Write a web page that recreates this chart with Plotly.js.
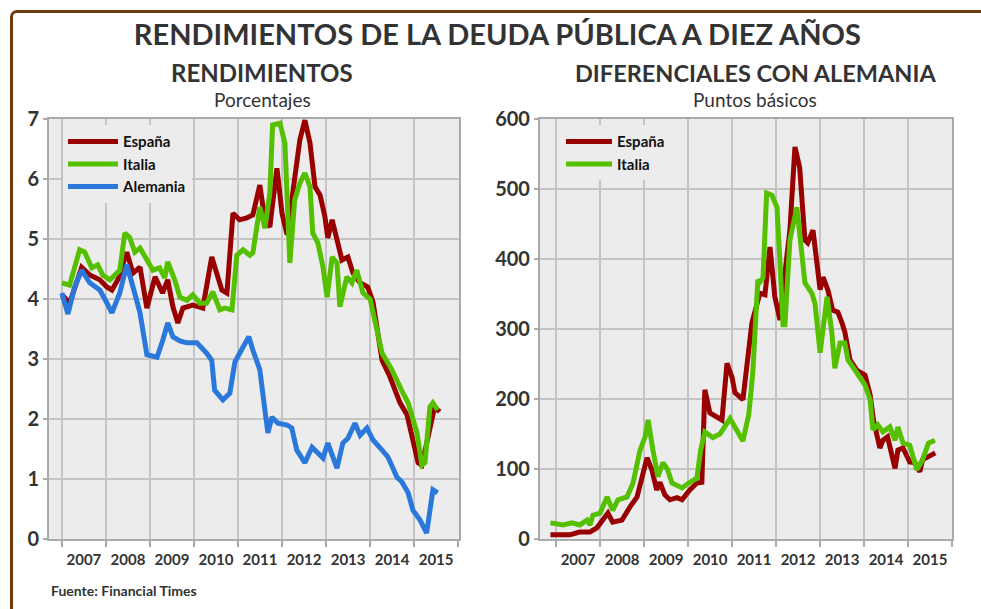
<!DOCTYPE html>
<html>
<head>
<meta charset="utf-8">
<script src="https://cdn.plot.ly/plotly-3.0.1.min.js"></script>
<style>
  html, body { margin: 0; padding: 0; background: #ffffff; width: 981px; height: 609px; overflow: hidden; }
  #frame { position: absolute; left: 10px; top: 10px; width: 1000px; height: 640px;
           border-left: 3px solid #6b3c0c; border-top: 3px solid #6b3c0c; border-top-left-radius: 7px; box-sizing: border-box; }
  #chart { position: absolute; left: 0; top: 0; width: 981px; height: 609px; }
</style>
</head>
<body>
<div id="frame"></div>
<div id="chart"></div>
<script>
// ---------- Data ----------
const mainTitle = "RENDIMIENTOS DE LA DEUDA PÚBLICA A DIEZ AÑOS";
const leftTitle = "RENDIMIENTOS";
const leftSubtitle = "Porcentajes";
const rightTitle = "DIFERENCIALES CON ALEMANIA";
const rightSubtitle = "Puntos básicos";
const sourceText = "Fuente: Financial Times";
const seriesNames = ["España", "Italia", "Alemania"];

// Left chart: 10-year yields, %
const yieldEspDates = ["2007-01-01","2007-03-06","2007-06-14","2007-08-20","2007-11-11","2008-01-09","2008-02-20","2008-04-09","2008-06-22","2008-08-13","2008-10-10","2008-12-06","2009-02-12","2009-04-15","2009-05-28","2009-07-10","2009-08-20","2009-10-01","2009-12-22","2010-03-15","2010-05-28","2010-07-09","2010-08-20","2010-10-01","2010-11-20","2011-01-15","2011-03-14","2011-05-04","2011-07-01","2011-08-12","2011-09-22","2011-11-20","2012-01-01","2012-02-12","2012-04-01","2012-05-28","2012-07-09","2012-08-20","2012-10-01","2012-11-12","2012-12-22","2013-01-15","2013-02-20","2013-04-01","2013-05-12","2013-07-01","2013-08-12","2013-10-10","2013-12-12","2014-01-25","2014-04-10","2014-06-15","2014-09-06","2014-11-03","2014-12-22","2015-02-03","2015-03-06","2015-05-12","2015-06-20","2015-08-01"];
const yieldEsp = [4.07,3.93,4.53,4.40,4.32,4.20,4.15,4.32,4.78,4.43,4.53,3.85,4.37,4.10,4.32,3.87,3.60,3.85,3.90,3.85,4.70,4.43,4.15,4.10,5.43,5.32,5.35,5.40,5.90,5.32,5.20,6.18,5.43,5.07,5.77,6.65,6.98,6.60,5.87,5.73,5.37,5.02,5.32,4.98,4.65,4.70,4.43,4.27,4.20,3.95,2.98,2.70,2.27,2.07,1.65,1.27,1.23,1.87,2.20,2.12];

const yieldItaDates = ["2007-01-01","2007-03-06","2007-05-28","2007-07-09","2007-09-06","2007-10-25","2007-12-06","2008-02-03","2008-04-25","2008-06-06","2008-07-15","2008-08-28","2008-10-10","2008-12-06","2009-01-25","2009-03-22","2009-05-03","2009-05-28","2009-07-25","2009-09-06","2009-11-03","2009-12-22","2010-02-18","2010-04-15","2010-06-06","2010-08-03","2010-09-15","2010-11-12","2010-12-22","2011-02-12","2011-04-09","2011-05-04","2011-07-01","2011-08-12","2011-09-22","2011-10-15","2011-12-15","2012-01-25","2012-02-20","2012-03-06","2012-04-15","2012-05-28","2012-07-09","2012-08-20","2012-09-12","2012-10-25","2012-12-06","2013-01-09","2013-02-20","2013-04-01","2013-04-25","2013-06-22","2013-08-03","2013-09-12","2013-11-03","2014-01-01","2014-04-10","2014-07-01","2014-10-01","2014-11-12","2015-01-25","2015-03-06","2015-04-01","2015-05-12","2015-06-06","2015-07-15"];
const yieldIta = [4.27,4.23,4.82,4.78,4.52,4.57,4.40,4.32,4.48,5.10,5.03,4.78,4.85,4.65,4.48,4.52,4.35,4.62,4.32,4.03,3.98,4.07,3.93,3.93,4.12,3.82,3.85,3.82,4.73,4.82,4.73,4.77,5.53,5.18,5.77,6.90,6.93,6.60,5.48,4.60,5.65,5.93,6.10,5.87,5.10,4.93,4.53,4.03,4.70,4.60,3.87,4.37,4.27,4.48,4.10,4.00,3.10,2.82,2.43,2.27,1.77,1.23,1.27,2.20,2.27,2.15];

const yieldAleDates = ["2007-01-01","2007-02-20","2007-04-17","2007-06-14","2007-08-20","2007-11-11","2007-12-23","2008-02-20","2008-04-25","2008-06-22","2008-08-13","2008-10-10","2008-12-06","2009-01-15","2009-02-28","2009-04-15","2009-05-28","2009-07-10","2009-09-06","2009-11-03","2010-01-25","2010-04-15","2010-05-28","2010-06-21","2010-08-28","2010-10-25","2010-12-06","2011-02-12","2011-04-01","2011-05-04","2011-07-01","2011-08-12","2011-09-06","2011-10-09","2011-11-28","2012-02-12","2012-03-22","2012-05-03","2012-07-09","2012-09-06","2012-10-15","2012-12-06","2013-01-15","2013-04-01","2013-05-20","2013-07-01","2013-08-28","2013-10-10","2013-12-06","2014-01-25","2014-04-10","2014-05-28","2014-08-12","2014-09-22","2014-11-12","2014-12-22","2015-02-18","2015-04-15","2015-06-06","2015-07-15"];
const yieldAle = [4.10,3.75,4.20,4.48,4.27,4.15,4.00,3.77,4.10,4.57,4.20,3.77,3.07,3.05,3.03,3.30,3.60,3.37,3.30,3.27,3.27,3.10,2.98,2.48,2.32,2.43,2.95,3.20,3.37,3.15,2.82,2.15,1.77,2.03,1.93,1.90,1.85,1.48,1.27,1.53,1.45,1.35,1.60,1.18,1.60,1.68,1.93,1.73,1.85,1.65,1.48,1.37,1.03,0.95,0.77,0.48,0.32,0.10,0.82,0.77];

// Right chart: spreads vs Germany, basis points
const spreadEspDates = ["2006-11-15","2007-04-25","2007-07-15","2007-10-09","2007-12-06","2008-01-25","2008-03-06","2008-04-15","2008-07-01","2008-09-06","2008-11-03","2009-01-25","2009-03-06","2009-04-15","2009-05-12","2009-06-22","2009-08-03","2009-10-01","2009-11-12","2010-01-15","2010-03-15","2010-04-25","2010-05-20","2010-07-01","2010-08-28","2010-10-09","2010-11-20","2011-01-01","2011-01-25","2011-04-01","2011-06-15","2011-08-20","2011-10-01","2011-11-12","2011-12-22","2012-02-03","2012-03-15","2012-04-25","2012-06-06","2012-07-15","2012-08-28","2012-09-20","2012-11-03","2012-12-06","2013-01-01","2013-01-25","2013-03-06","2013-04-15","2013-05-28","2013-07-01","2013-07-25","2013-09-06","2013-11-03","2014-01-09","2014-02-20","2014-03-20","2014-04-15","2014-05-12","2014-06-06","2014-07-15","2014-09-15","2014-10-09","2014-11-20","2015-01-15","2015-02-28","2015-04-09","2015-05-01","2015-06-20","2015-08-15"];
const spreadEsp = [6,6,10,10,16,27,37,24,27,46,60,116,99,70,81,63,56,59,56,70,80,81,213,180,174,170,251,231,209,199,309,351,349,417,346,313,380,441,560,531,427,423,441,394,356,374,356,327,324,309,296,256,241,234,206,170,146,130,141,146,101,127,130,110,109,96,113,117,123];

const spreadItaDates = ["2006-11-15","2007-03-01","2007-05-12","2007-07-15","2007-09-15","2007-10-09","2007-11-03","2008-01-01","2008-02-28","2008-04-15","2008-05-28","2008-08-12","2008-10-01","2008-11-28","2009-01-09","2009-02-03","2009-03-15","2009-04-25","2009-06-06","2009-07-15","2009-08-20","2009-11-12","2010-01-15","2010-03-15","2010-04-15","2010-05-20","2010-07-25","2010-09-22","2010-12-15","2011-02-12","2011-04-01","2011-05-20","2011-06-22","2011-08-03","2011-08-20","2011-09-15","2011-10-15","2011-11-28","2012-01-09","2012-02-03","2012-02-28","2012-03-15","2012-04-25","2012-06-22","2012-07-15","2012-08-28","2012-10-25","2012-11-20","2013-01-01","2013-02-28","2013-04-09","2013-05-03","2013-06-15","2013-07-25","2013-08-20","2013-10-01","2013-11-28","2014-01-09","2014-02-20","2014-03-15","2014-04-25","2014-06-06","2014-08-03","2014-09-15","2014-10-09","2014-11-20","2015-01-15","2015-03-15","2015-05-01","2015-06-01","2015-06-20","2015-08-12"];
const spreadIta = [23,20,23,20,27,20,34,37,60,41,56,60,80,127,146,170,127,89,109,99,80,73,81,87,127,153,145,150,172,155,140,178,237,370,367,373,494,491,474,394,306,306,427,474,441,366,351,336,266,346,294,244,280,280,256,246,231,220,199,156,163,153,160,141,160,137,134,99,113,131,137,141];

// ---------- Styling ----------
const cEsp = "#990000", cIta = "#55c000", cAle = "#2a78dc";
const lw = 5;
const tickFont = {family: "Liberation Sans Narrow, Arial Narrow, Lato, sans-serif", size: 15, color: "#333333", weight: "bold"};
const yTickFont = {family: "Lato, sans-serif", size: 20, color: "#333333", weight: "bold"};
const legFont = {family: "Liberation Sans Narrow, Arial Narrow, Lato, sans-serif", size: 15, color: "#111111", weight: "bold"};

const traces = [
  {x: yieldEspDates, y: yieldEsp, name: seriesNames[0], type: "scatter", mode: "lines", line: {color: cEsp, width: lw}, xaxis: "x", yaxis: "y", legend: "legend"},
  {x: yieldItaDates, y: yieldIta, name: seriesNames[1], type: "scatter", mode: "lines", line: {color: cIta, width: lw}, xaxis: "x", yaxis: "y", legend: "legend"},
  {x: yieldAleDates, y: yieldAle, name: seriesNames[2], type: "scatter", mode: "lines", line: {color: cAle, width: lw}, xaxis: "x", yaxis: "y", legend: "legend"},
  {x: spreadEspDates, y: spreadEsp, name: seriesNames[0], type: "scatter", mode: "lines", line: {color: cEsp, width: lw}, xaxis: "x2", yaxis: "y2", legend: "legend2"},
  {x: spreadItaDates, y: spreadIta, name: seriesNames[1], type: "scatter", mode: "lines", line: {color: cIta, width: lw}, xaxis: "x2", yaxis: "y2", legend: "legend2"}
];

const xCommon = {
  type: "date", dtick: "M12", tick0: "2007-01-01", ticklabelmode: "period", tickformat: "%Y",
  showgrid: true, gridcolor: "#c4c4c4", gridwidth: 1.5,
  ticks: "outside", ticklen: 6, tickwidth: 1.5, tickcolor: "#aaaaaa",
  showline: true, linecolor: "#aaaaaa", linewidth: 2, mirror: true,
  tickfont: tickFont, zeroline: false, fixedrange: true
};
const yCommon = {
  showgrid: true, gridcolor: "#c4c4c4", gridwidth: 1.5,
  ticks: "outside", ticklen: 4, tickwidth: 1.5, tickcolor: "#aaaaaa",
  showline: true, linecolor: "#aaaaaa", linewidth: 2, mirror: true,
  tickfont: yTickFont, zeroline: false, fixedrange: true
};

const layout = {
  width: 981, height: 609,
  paper_bgcolor: "rgba(0,0,0,0)", plot_bgcolor: "#ececec",
  margin: {l: 49, r: 29, t: 119, b: 70},
  showlegend: true,
  title: {text: mainTitle, x: 0.507, xanchor: "center", y: 1 - 35/609, yanchor: "middle",
          font: {family: "Lato, sans-serif", size: 29, color: "#333333", weight: "bold"}},
  xaxis: Object.assign({}, xCommon, {domain: [0, 0.454], range: ["2006-09-16", "2016-01-08"], anchor: "y"}),
  yaxis: Object.assign({}, yCommon, {range: [0, 7], dtick: 1, anchor: "x"}),
  xaxis2: Object.assign({}, xCommon, {domain: [0.5437, 1], range: ["2006-08-20", "2016-01-01"], anchor: "y2"}),
  yaxis2: Object.assign({}, yCommon, {range: [0, 600], dtick: 100, anchor: "x2"}),
  legend: {x: 0.0155, y: 0.985, xanchor: "left", yanchor: "top", bgcolor: "#ececec", font: legFont, itemwidth: 50, tracegroupgap: 0},
  legend2: {x: 0.567, y: 0.985, xanchor: "left", yanchor: "top", bgcolor: "#ececec", font: legFont, itemwidth: 46, tracegroupgap: 0},
  annotations: [
    {text: leftTitle, xref: "paper", yref: "paper", x: 0.236, y: (539 - 73) / 420, xanchor: "center", yanchor: "middle", showarrow: false,
     font: {family: "Lato, sans-serif", size: 24, color: "#333333", weight: "bold"}},
    {text: leftSubtitle, xref: "paper", yref: "paper", x: 0.236, y: (539 - 100) / 420, xanchor: "center", yanchor: "middle", showarrow: false,
     font: {family: "Lato, sans-serif", size: 19, color: "#333333"}},
    {text: rightTitle, xref: "paper", yref: "paper", x: 0.782, y: (539 - 73) / 420, xanchor: "center", yanchor: "middle", showarrow: false,
     font: {family: "Lato, sans-serif", size: 23.5, color: "#333333", weight: "bold"}},
    {text: rightSubtitle, xref: "paper", yref: "paper", x: 0.782, y: (539 - 100) / 420, xanchor: "center", yanchor: "middle", showarrow: false,
     font: {family: "Lato, sans-serif", size: 19, color: "#333333"}},
    {text: sourceText, xref: "paper", yref: "paper", x: 0, y: (539 - 590) / 420, xanchor: "left", yanchor: "middle", showarrow: false,
     font: {family: "Liberation Sans Narrow, Arial Narrow, Lato, sans-serif", size: 14, color: "#333333", weight: "bold"}}
  ]
};

Plotly.newPlot("chart", traces, layout, {displayModeBar: false, staticPlot: true});
</script>
</body>
</html>
